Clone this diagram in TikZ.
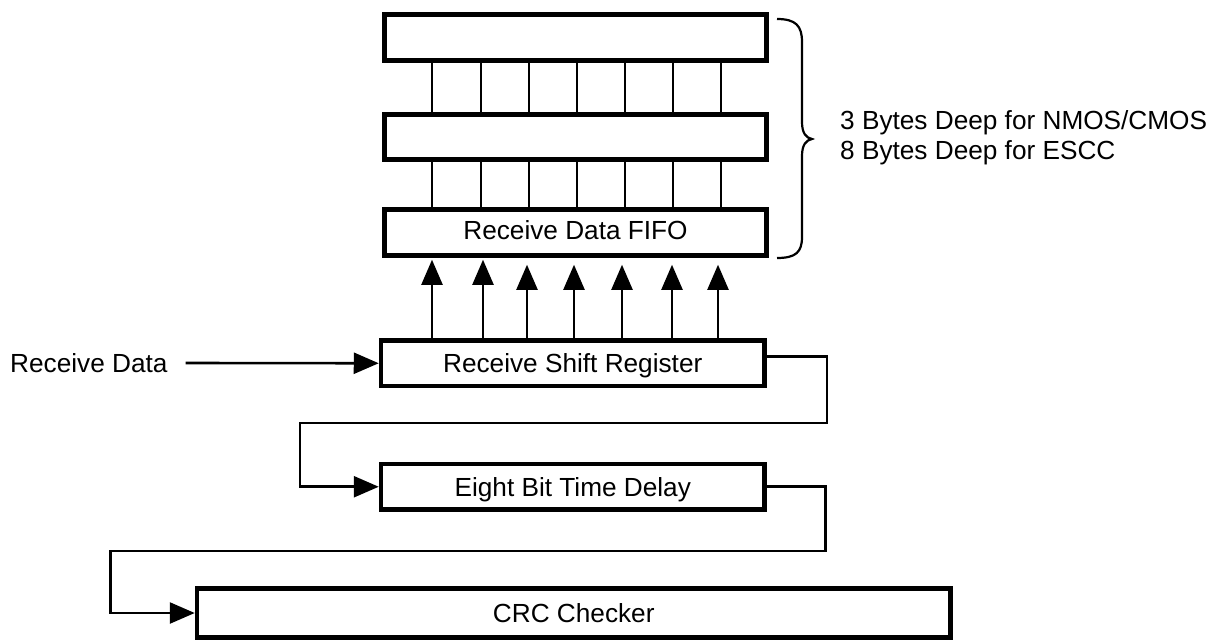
\documentclass[tikz,border=0pt]{standalone}
\usepackage{fontspec}
\setmainfont{Liberation Sans}
\usetikzlibrary{arrows.meta}
\begin{document}
\begin{tikzpicture}[x=1pt,y=-1pt,
  box/.style={draw,line width=4.5pt,rectangle,inner sep=0pt,text height=18.8pt,text depth=0pt,font=\fontsize{26.2}{30}\selectfont},
  wire/.style={line width=2.2pt},
  conn/.style={line width=2.6pt},
  tip/.style={-{Triangle[length=25pt,width=21pt]}},
  lbl/.style={inner sep=0pt,font=\fontsize{26.2}{30}\selectfont}]
\useasboundingbox (0,0) rectangle (1220,640);
% FIFO stack
\node[box,minimum width=382pt,minimum height=46pt] (b1) at (575.5,37.5) {};
\node[box,minimum width=382pt,minimum height=45pt] (b2) at (575.5,137) {};
\node[box,minimum width=382pt,minimum height=46pt] (fifo) at (575.5,232.5) {\raisebox{2.5pt}{Receive Data FIFO}};
% other blocks
\node[box,minimum width=383.5pt,minimum height=45.5pt] (sr) at (572.75,363.25) {Receive Shift Register};
\node[box,minimum width=383.5pt,minimum height=45.5pt] (ebtd) at (572.75,486.75) {Eight Bit Time Delay};
\node[box,minimum width=753.5pt,minimum height=49pt] (crc) at (573.75,613) {CRC Checker};
% bus lines between FIFO registers
\foreach \x in {432,481,529,577,625,673,721}{
  \path (\x,0) coordinate (bx);
  \draw[wire] (b1.south -| bx) -- (b2.north -| bx);
  \draw[wire] (b2.south -| bx) -- (fifo.north -| bx);
}
% parallel arrows into FIFO
\foreach \x/\g in {432/2,483/2,527/7,574/7,622/7,672/7,718/7}{
  \path (\x,0) coordinate (ax);
  \draw[wire,tip,shorten >=\g pt] (sr.north -| ax) -- (fifo.south -| ax);
}
% receive data input
\node[lbl,anchor=west] (rd) at (10,363) {Receive Data};
\draw[conn,tip] ([xshift=18pt]rd.east) -- (sr.west);
% SR -> delay
\coordinate (a1) at (827,423);
\coordinate (a2) at (300,486.75);
\draw[conn,tip] ([yshift=7pt]sr.east) -| (a1) -| (a2) -- (ebtd.west);
% delay -> CRC
\coordinate (c1) at (825.5,551);
\coordinate (c2) at (110.5,613);
\draw[conn,tip] (ebtd.east) -| (c1) -| (c2) -- (crc.west);
% brace
\draw[wire] (777,19) .. controls (796,19) and (802,26) .. (802,42) -- (802,122)
  .. controls (802,133) and (806,138) .. (812,139)
  .. controls (806,140) and (802,145) .. (802,156) -- (802,237)
  .. controls (802,252) and (796,258) .. (777,258);
\node[lbl,anchor=west,align=left] (note) at (840,138) {3 Bytes Deep for NMOS/CMOS\\8 Bytes Deep for ESCC};
\end{tikzpicture}
\end{document}
